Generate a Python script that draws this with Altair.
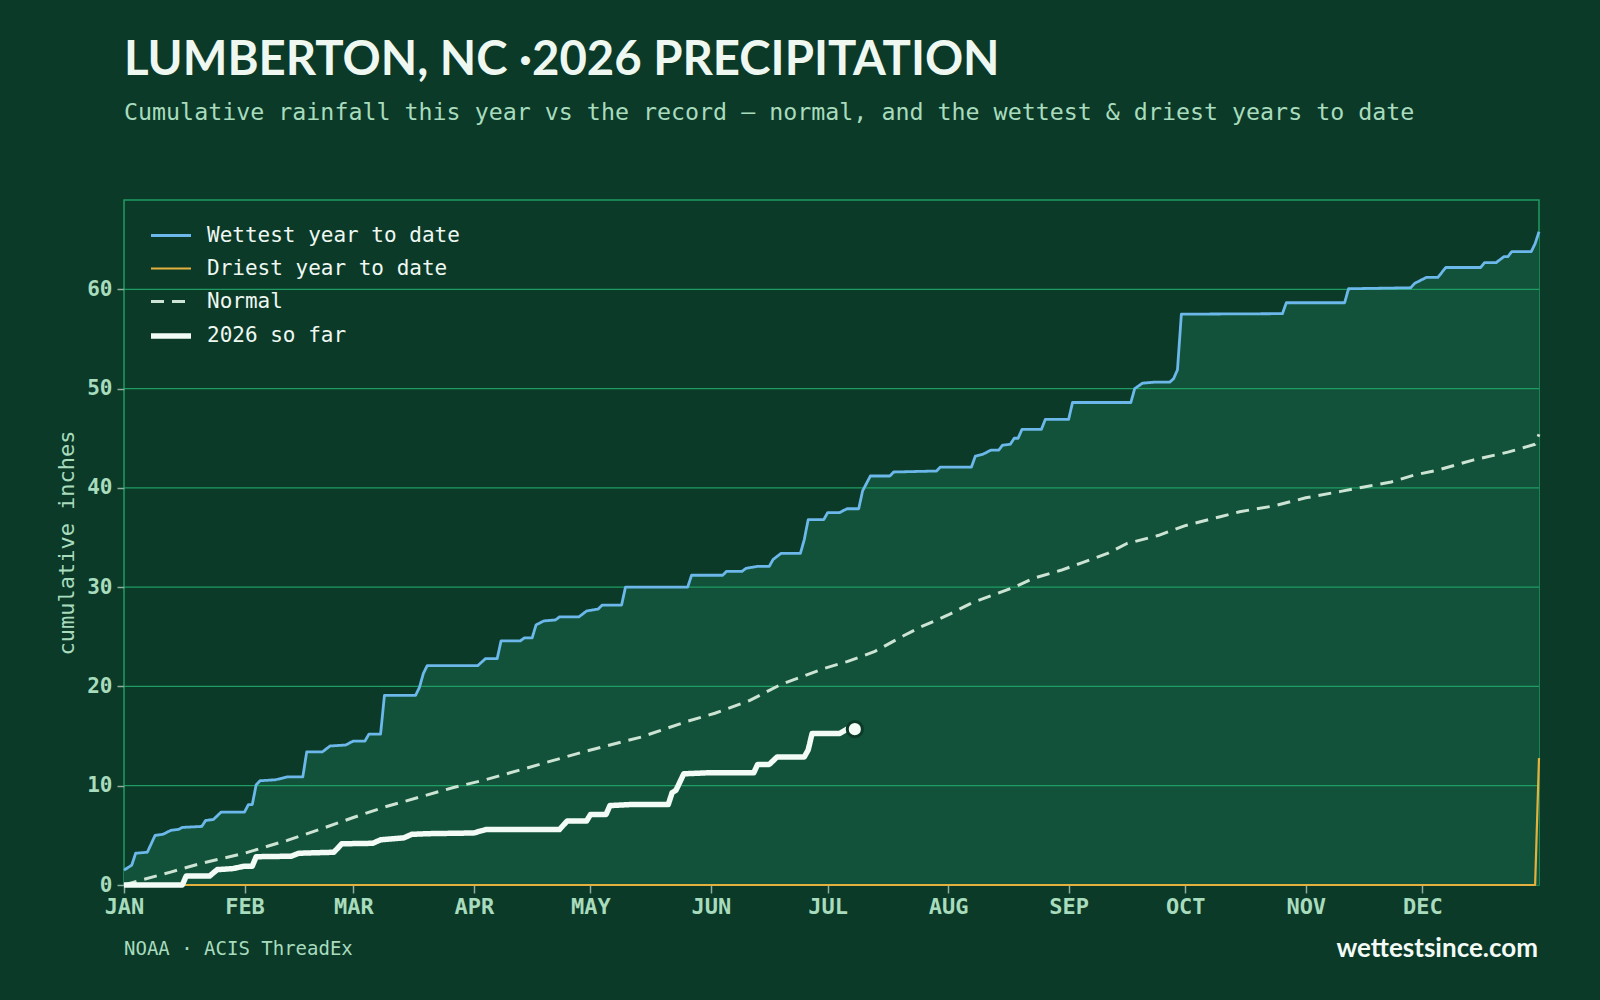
import altair as alt
import pandas as pd

# ---------------- data ----------------
MONTH_START = [0, 31, 59, 90, 120, 151, 181, 212, 243, 273, 304, 334]
MONTH_LABELS = ["JAN", "FEB", "MAR", "APR", "MAY", "JUN", "JUL", "AUG", "SEP", "OCT", "NOV", "DEC"]
Y_TICKS = [0, 10, 20, 30, 40, 50, 60]

SERIES = ["Wettest year to date", "Driest year to date", "Normal", "2026 so far"]

# day offset from Jan 1 -> cumulative inches
WET_DAY = [0, 2, 3, 6, 8, 10, 12, 14, 15, 20, 21, 23, 25, 31, 32, 33, 34, 35, 39, 42,
           46, 47, 51, 53, 57, 59, 62, 63, 66, 67, 75, 76, 77, 78, 91, 93, 96, 97, 102, 103,
           105, 106, 108, 111, 112, 117, 119, 122, 123, 128, 129, 145, 146, 154, 155, 159, 160, 163, 166, 167,
           169, 174, 175, 176, 180, 181, 184, 186, 189, 190, 192, 197, 198, 209, 210, 218, 219, 221, 223, 225,
           226, 228, 229, 230, 231, 236, 237, 243, 244, 259, 260, 262, 265, 269, 270, 271, 272, 298, 299, 314,
           315, 331, 332, 335, 338, 340, 349, 350, 353, 355, 356, 357, 362, 363, 364]
WET_IN = [1.5, 2.0, 3.2, 3.3, 5.0, 5.1, 5.5, 5.6, 5.8, 5.9, 6.5, 6.6, 7.35, 7.35, 8.1, 8.1, 10.1, 10.5, 10.6, 10.9,
          10.9, 13.4, 13.4, 14.0, 14.1, 14.5, 14.5, 15.2, 15.2, 19.1, 19.1, 19.9, 21.3, 22.1, 22.1, 22.8, 22.8, 24.6, 24.6, 24.9,
          24.9, 26.2, 26.6, 26.7, 27.0, 27.0, 27.6, 27.8, 28.2, 28.2, 30.0, 30.0, 31.2, 31.2, 31.6, 31.6, 31.9, 32.1, 32.1, 32.8,
          33.4, 33.4, 34.8, 36.8, 36.8, 37.5, 37.5, 37.9, 37.9, 39.7, 41.2, 41.2, 41.6, 41.7, 42.1, 42.1, 43.2, 43.4, 43.8, 43.8,
          44.3, 44.4, 45.0, 45.0, 45.9, 45.9, 46.9, 46.9, 48.6, 48.6, 50.0, 50.55, 50.65, 50.65, 51.0, 51.9, 57.5, 57.55, 58.65, 58.65,
          60.06, 60.16, 60.6, 61.2, 61.2, 62.2, 62.2, 62.7, 62.7, 63.3, 63.3, 63.8, 63.8, 64.6, 65.8]

DRY_DAY = [0, 363, 364]
DRY_IN = [0.0, 0.0, 12.8]

NORMAL_DAY = [0, 4, 12, 20, 31, 42, 50, 59, 67, 76, 85, 93, 102, 110, 119, 127, 133, 145, 152, 161,
              169, 180, 186, 193, 200, 205, 212, 218, 229, 234, 241, 246, 253, 258, 266, 273, 282, 287, 296, 304,
              313, 319, 326, 332, 338, 347, 356, 363, 364]
NORMAL_IN = [0, 0.45, 1.3, 2.2, 3.2, 4.5, 5.55, 6.8, 7.85, 8.85, 9.85, 10.6, 11.6, 12.5, 13.5, 14.3, 14.9, 16.5, 17.3, 18.6,
             20.2, 21.8, 22.5, 23.5, 25.0, 26.0, 27.2, 28.4, 30.0, 30.9, 31.7, 32.4, 33.4, 34.4, 35.2, 36.2, 37.1, 37.6, 38.2, 39.0,
             39.65, 40.1, 40.6, 41.3, 41.8, 42.8, 43.6, 44.4, 45.4]

CUR_DAY = [0, 15, 16, 22, 24, 28, 31, 33, 34, 43, 45, 54, 56, 64, 66, 72, 74, 78, 90, 93,
           112, 114, 119, 120, 124, 125, 130, 140, 141, 142, 144, 150, 162, 163, 166, 168, 175, 176, 177, 184,
           186, 188]
CUR_IN = [0, 0, 0.9, 0.9, 1.55, 1.65, 1.9, 1.9, 2.85, 2.9, 3.2, 3.3, 4.15, 4.2, 4.55, 4.75, 5.1, 5.17, 5.24, 5.58,
          5.58, 6.45, 6.45, 7.1, 7.1, 8.0, 8.1, 8.1, 9.3, 9.55, 11.2, 11.3, 11.3, 12.15, 12.15, 12.9, 12.9, 13.6, 15.25, 15.25,
          15.7, 15.7]

TITLE = "LUMBERTON, NC \u00b72026 PRECIPITATION"
SUBTITLE = "Cumulative rainfall this year vs the record \u2014 normal, and the wettest & driest years to date"
SOURCE = "NOAA \u00b7 ACIS ThreadEx"
SITE = "wettestsince.com"

# ---------------- styling ----------------
BG = "#0b3a29"
FILL = "#13523a"
GRID = "#1f9c62"
MINT = "#a8dcbd"
WHITE = "#eef8f1"
COLORS = ["#6cb8ea", "#e4b13e", "#cde4d5", "#f2fbf5"]
DASHES = [[1, 0], [1, 0], [13, 8], [1, 0]]
WIDTHS = [2.8, 2.2, 3.0, 5.5]
MONO = "DejaVu Sans Mono"

W, H = 1415, 685

frames = []
for name, days, vals in [(SERIES[0], WET_DAY, WET_IN), (SERIES[1], DRY_DAY, DRY_IN),
                         (SERIES[2], NORMAL_DAY, NORMAL_IN), (SERIES[3], CUR_DAY, CUR_IN)]:
    frames.append(pd.DataFrame({"series": name, "day": days, "value": vals}))
df = pd.concat(frames, ignore_index=True)
wet_df = frames[0]
last_df = pd.DataFrame({"day": [CUR_DAY[-1]], "value": [CUR_IN[-1]]})
grid_df = pd.DataFrame({"v": Y_TICKS[1:]})

label_expr = "[" + ",".join("'%s'" % m for m in MONTH_LABELS) + "][indexof([" + \
    ",".join(str(d) for d in MONTH_START) + "], datum.value)]"

x_enc = alt.X("day:Q",
              scale=alt.Scale(domain=[0, 364], nice=False, zero=False),
              axis=alt.Axis(values=MONTH_START, labelExpr=label_expr, title=None, grid=False,
                            domain=False, ticks=True, tickSize=8, tickColor="#8fae9e", tickWidth=1.5,
                            labelFont=MONO, labelFontWeight="bold", labelFontSize=22,
                            labelColor=MINT, labelPadding=3, labelAngle=0, labelFlush=False))
y_enc = alt.Y("value:Q",
              scale=alt.Scale(domain=[0, 69], nice=False, zero=True),
              axis=alt.Axis(values=Y_TICKS, grid=False, domain=False, ticks=True, tickSize=7,
                            tickColor="#8fae9e", tickWidth=1.5,
                            labelFont=MONO, labelFontWeight="bold", labelFontSize=21,
                            labelColor=MINT, labelPadding=5,
                            title="cumulative inches", titleFont=MONO, titleFontWeight="normal",
                            titleFontSize=22, titleColor=MINT, titlePadding=8))

legend = alt.Legend(orient="none", legendX=24, legendY=14, title=None, symbolType="stroke",
                    symbolSize=1600, labelFont=MONO, labelFontSize=21, labelColor=WHITE,
                    rowPadding=1, labelOffset=13, padding=0, labelLimit=0)

color_enc = alt.Color("series:N", scale=alt.Scale(domain=SERIES, range=COLORS), legend=legend)
dash_enc = alt.StrokeDash("series:N", scale=alt.Scale(domain=SERIES, range=DASHES), legend=legend)
width_enc = alt.StrokeWidth("series:N", scale=alt.Scale(type="ordinal", domain=SERIES, range=WIDTHS),
                            legend=legend)

area = alt.Chart(wet_df).mark_area(color=FILL, opacity=1).encode(x=x_enc, y=y_enc)

grid = alt.Chart(grid_df).mark_rule(color=GRID, strokeWidth=1.3).encode(y=alt.Y("v:Q"))

lines = []
for s in SERIES:
    lines.append(
        alt.Chart(df).transform_filter(alt.datum.series == s)
        .mark_line(strokeJoin="round")
        .encode(x=x_enc, y=y_enc, color=color_enc, strokeDash=dash_enc, strokeWidth=width_enc)
    )

dot = alt.Chart(last_df).mark_circle(size=230, color="#f2fbf5", opacity=1, stroke=BG,
                                      strokeWidth=3).encode(x="day:Q", y="value:Q")

def text_layer(txt, **kw):
    return alt.Chart(pd.DataFrame({"t": [txt]})).mark_text(**kw).encode(text="t:N")

title = text_layer(TITLE, x=0, y=-125, align="left", baseline="alphabetic", font="Lato",
                   fontWeight="bold", fontSize=47.3, color=WHITE)
subtitle = text_layer(SUBTITLE, x=0, y=-80, align="left", baseline="alphabetic", font=MONO,
                      fontSize=23.3, color=MINT)
source = text_layer(SOURCE, x=0, y=H + 70, align="left", baseline="alphabetic", font=MONO,
                    fontSize=19, color=MINT)
site = text_layer(SITE, x=W - 1, y=H + 72, align="right", baseline="alphabetic", font="Lato",
                  fontWeight="bold", fontSize=26, color="#f4faf6")

chart = alt.layer(area, grid, *lines, dot, title, subtitle, source, site).properties(
    width=W, height=H,
    autosize=alt.AutoSizeParams(type="none"),
    padding={"left": 124, "top": 200, "right": 61, "bottom": 115},
    background=BG,
).configure_view(stroke=GRID, strokeWidth=1.5)

chart.save("out.html", embed_options={"renderer": "svg", "actions": False})
